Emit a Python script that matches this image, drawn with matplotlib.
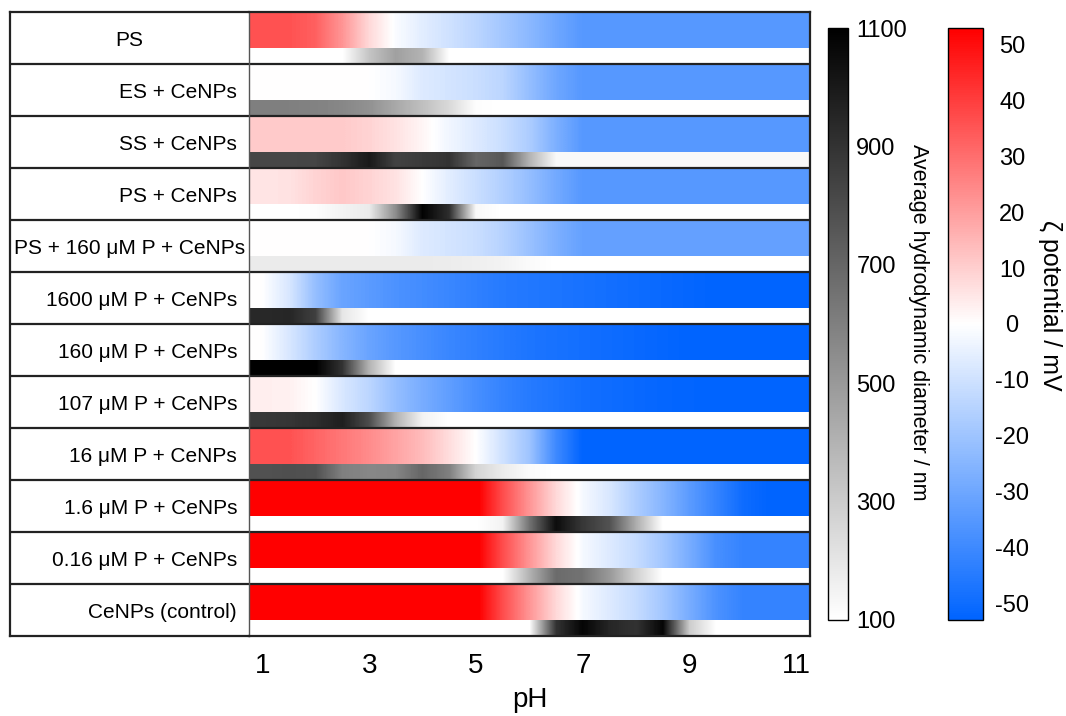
import numpy as np
import matplotlib
matplotlib.use("Agg")
import matplotlib.pyplot as plt
from matplotlib.colors import LinearSegmentedColormap, Normalize

plt.rcParams["font.family"] = ["Liberation Sans", "DejaVu Sans"]
plt.rcParams["axes.unicode_minus"] = False

# measured pH grid
ph = [1, 1.5, 2, 2.5, 3, 3.5, 4, 4.5, 5, 5.5, 6, 6.5, 7, 7.5, 8, 8.5, 9, 9.5, 10, 10.5, 11]

samples = ["PS", "ES + CeNPs", "SS + CeNPs", "PS + CeNPs", "PS + 160 μM P + CeNPs",
           "1600 μM P + CeNPs", "160 μM P + CeNPs", "107 μM P + CeNPs", "16 μM P + CeNPs",
           "1.6 μM P + CeNPs", "0.16 μM P + CeNPs", "CeNPs (control)"]

# zeta potential / mV
zeta_ps = [36, 36, 33, 22, 8, -1, -6, -10, -14, -19, -24, -30, -35, -35, -35, -35, -35, -35, -35, -35, -35]
zeta_es = [0, 0, 0, 0, 0, -2, -7, -9, -11, -14, -22, -30, -35, -35, -35, -35, -35, -35, -35, -35, -35]
zeta_ss = [11, 11, 11, 11, 9, 6, 2, -3, -7, -11, -17, -27, -35, -35, -35, -35, -35, -35, -35, -35, -35]
zeta_psc = [5.5, 6, 9, 11.5, 9, 6, 0, -6, -11, -16, -22, -29, -35, -35, -35, -35, -35, -35, -35, -35, -35]
zeta_ps160 = [0, 0, 0, 0, 0, -2, -7, -9, -11, -15, -21, -27, -32, -32, -32, -32, -32, -32, -32, -32, -32]
zeta_p1600 = [0, -8, -22, -31, -34, -37, -39, -41, -43, -45, -46, -47, -48, -49, -50, -51, -52, -53, -53, -53, -53]
zeta_p160 = [0, -8, -17, -25, -31, -35, -38, -41, -43, -45, -47, -48, -49, -50, -51, -52, -53, -53, -53, -53, -53]
zeta_p107 = [3.5, 3, 0, -8, -14, -22, -28, -33, -38, -42, -45, -47, -49, -50, -51, -52, -52.5, -53, -53, -53, -53]
zeta_p16 = [36, 36, 32, 28, 24, 19, 14, 7, 0, -10, -20, -40, -53, -53, -53, -53, -53, -53, -53, -53, -53]
zeta_p1_6 = [55, 55, 55, 55, 55, 55, 55, 55, 55, 37, 22, 8, -2, -8, -17, -25, -34, -42, -50, -53, -53]
zeta_p0_16 = [55, 55, 55, 55, 55, 55, 55, 55, 55, 37, 22, 8, -2, -7, -12, -19, -28, -38, -42, -42, -42]
zeta_ctrl = [55, 55, 55, 55, 55, 55, 55, 55, 55, 37, 22, 8, -2, -7, -12, -19, -28, -37, -42, -42, -42]

# average hydrodynamic diameter / nm
d_ps = [100, 100, 100, 100, 330, 473, 400, 100, 100, 100, 100, 100, 100, 100, 100, 100, 100, 100, 100, 100, 100]
d_es = [600, 600, 590, 570, 530, 440, 350, 250, 110, 100, 100, 100, 100, 100, 100, 100, 100, 100, 100, 100, 100]
d_ss = [825, 825, 830, 900, 1000, 840, 870, 900, 700, 760, 400, 127, 127, 127, 127, 127, 127, 127, 127, 127, 127]
d_psc = [100, 100, 110, 150, 180, 550, 1090, 920, 130, 100, 100, 100, 100, 100, 100, 100, 100, 100, 100, 100, 100]
d_ps160 = [180, 180, 180, 180, 180, 180, 180, 175, 165, 150, 120, 100, 100, 100, 100, 100, 100, 100, 100, 100, 100]
d_p1600 = [940, 950, 850, 200, 100, 100, 100, 100, 100, 100, 100, 100, 100, 100, 100, 100, 100, 100, 100, 100, 100]
d_p160 = [1100, 1100, 1100, 900, 400, 100, 100, 100, 100, 100, 100, 100, 100, 100, 100, 100, 100, 100, 100, 100, 100]
d_p107 = [880, 890, 920, 980, 800, 400, 150, 100, 100, 100, 100, 100, 100, 100, 100, 100, 100, 100, 100, 100, 100]
d_p16 = [780, 790, 780, 600, 570, 580, 700, 600, 270, 180, 120, 100, 100, 100, 100, 100, 100, 100, 100, 100, 100]
d_p1_6 = [100, 100, 100, 100, 100, 100, 100, 100, 100, 150, 650, 1050, 880, 780, 420, 100, 100, 100, 100, 100, 100]
d_p0_16 = [100, 100, 100, 100, 100, 100, 100, 100, 100, 100, 400, 680, 650, 500, 280, 100, 100, 100, 100, 100, 100]
d_ctrl = [100, 100, 100, 100, 100, 100, 100, 100, 100, 100, 100, 900, 1080, 950, 900, 1080, 300, 100, 100, 100, 100]

zeta = [zeta_ps, zeta_es, zeta_ss, zeta_psc, zeta_ps160, zeta_p1600, zeta_p160,
        zeta_p107, zeta_p16, zeta_p1_6, zeta_p0_16, zeta_ctrl]
diam = [d_ps, d_es, d_ss, d_psc, d_ps160, d_p1600, d_p160, d_p107, d_p16,
        d_p1_6, d_p0_16, d_ctrl]

zeta_ticks = [50, 40, 30, 20, 10, 0, -10, -20, -30, -40, -50]
diam_ticks = [100, 300, 500, 700, 900, 1100]

zcmap = LinearSegmentedColormap.from_list("zeta", [(0, "#0064ff"), (0.5, "#ffffff"), (1, "#ff0000")])
dcmap = LinearSegmentedColormap.from_list("diam", ["#ffffff", "#000000"])
znorm = Normalize(-53, 53)
dnorm = Normalize(100, 1100)

W, H = 1066, 716
fig = plt.figure(figsize=(W / 100, H / 100), dpi=100)

def fa(x0, y0, x1, y1):
    return [x0 / W, 1 - y1 / H, (x1 - x0) / W, (y1 - y0) / H]

ax_lab = fig.add_axes(fa(10, 12, 249, 636))
ax = fig.add_axes(fa(249, 12, 810, 636))

n = len(samples)
x0, x1 = ph[0] - 0.25, ph[-1] + 0.25
zb = 0.70
for i in range(n):
    ax.imshow(np.array([zeta[i]]), cmap=zcmap, norm=znorm, aspect="auto",
              interpolation="bilinear", extent=(x0, x1, i + zb, i))
    ax.imshow(np.array([diam[i]]), cmap=dcmap, norm=dnorm, aspect="auto",
              interpolation="bilinear", extent=(x0, x1, i + 1, i + zb))

ax.set_xlim(x0, x1)
ax.set_ylim(n, 0)
ax.set_yticks([])
ax.set_xticks([1, 3, 5, 7, 9, 11])
ax.tick_params(axis="x", length=0, pad=12, labelsize=20)
ax.set_xlabel("pH", fontsize=20, labelpad=6)

ax_lab.set_xlim(0, 1)
ax_lab.set_ylim(n, 0)
ax_lab.set_xticks([])
ax_lab.set_yticks([])
for i, s in enumerate(samples):
    if s == "PS" or len(s) > 20:
        ax_lab.text(0.5, i + 0.55, s, ha="center", va="center", fontsize=15)
    else:
        ax_lab.text(0.95, i + 0.55, s, ha="right", va="center", fontsize=15)

for a in (ax, ax_lab):
    for k in range(1, n):
        a.axhline(k, color="#222222", lw=1.6)
    for sp in a.spines.values():
        sp.set_linewidth(1.6)
        sp.set_color("#222222")
ax_lab.spines["right"].set_visible(False)
ax.spines["left"].set_linewidth(1.0)
ax.spines["left"].set_color("#555555")

# colorbars
cax_d = fig.add_axes(fa(828, 28, 848, 620))
cb_d = fig.colorbar(plt.cm.ScalarMappable(norm=dnorm, cmap=dcmap), cax=cax_d)
cb_d.set_ticks(diam_ticks)
cb_d.ax.tick_params(length=0, pad=6, labelsize=17)
cb_d.outline.set_linewidth(1.0)
fig.text(918 / W, 1 - 322 / H, "Average hydrodynamic diameter / nm", rotation=270,
         ha="center", va="center", fontsize=15.5)

cax_z = fig.add_axes(fa(948, 28, 983, 620))
cb_z = fig.colorbar(plt.cm.ScalarMappable(norm=znorm, cmap=zcmap), cax=cax_z)
cb_z.set_ticks(zeta_ticks)
cb_z.ax.tick_params(length=0, pad=21, labelsize=17)
for t in cb_z.ax.get_yticklabels():
    t.set_horizontalalignment("center")
cb_z.outline.set_linewidth(1.0)
fig.text(1050 / W, 1 - 305 / H, "ζ potential / mV", rotation=270,
         ha="center", va="center", fontsize=18)

fig.savefig("out.png", dpi=100)
